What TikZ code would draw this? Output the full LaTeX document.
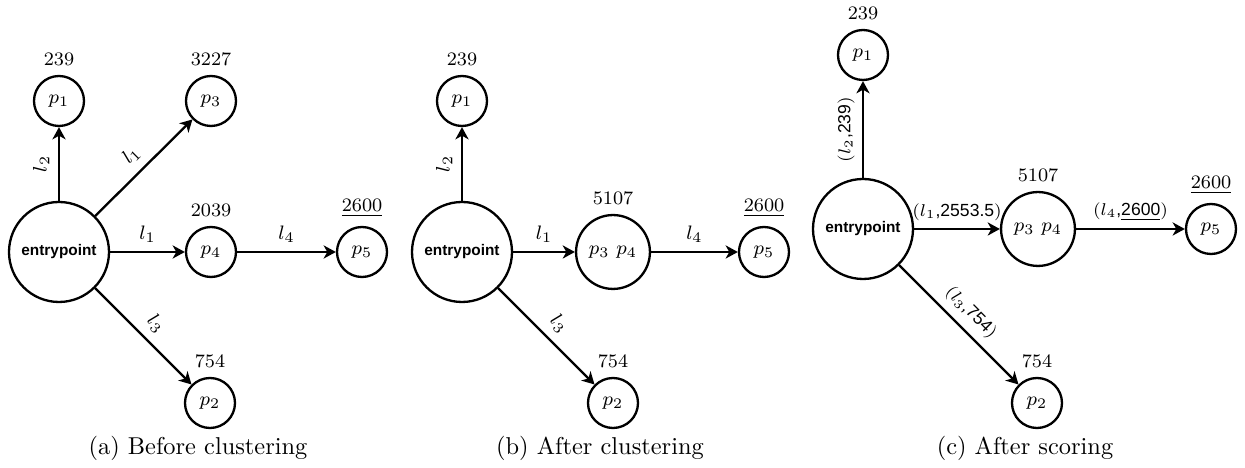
\documentclass[tikz,border=0pt]{standalone}
\usepackage{fontspec}
\setsansfont{Liberation Sans}
\usetikzlibrary{arrows.meta}
\begin{document}
\begin{tikzpicture}[x=0.41pt,y=-0.41pt,
  pnode/.style={circle,draw,line width=0.95pt,minimum size=20.5pt,inner sep=0pt,
    font=\fontsize{8}{9.6}\selectfont,label distance=1.5pt},
  cnode/.style={pnode,minimum size=30.3pt},
  epnode/.style={circle,draw,line width=0.95pt,minimum size=41pt,inner sep=0pt,
    font=\fontsize{6.3}{7.5}\selectfont\sffamily\bfseries},
  every label/.style={font=\fontsize{7.8}{9}\selectfont},
  conn/.style={draw,line width=0.95pt,-{Stealth[length=5pt,width=5.4pt,inset=1.5pt]}},
  elab/.style={font=\fontsize{8}{9.6}\selectfont,sloped,above,midway,inner sep=3.5pt},
  slab/.style={font=\fontsize{7.2}{8.4}\selectfont,sloped,above,midway,inner sep=3pt},
  captext/.style={font=\fontsize{10}{12}\selectfont}]
\useasboundingbox (0,0) rectangle (1245,468);
% (a)
\node[epnode] (Ea) at (59,252) {entrypoint};
\node[pnode,label=above:239] (p1a) at (59,101) {$p_1$};
\node[pnode,label=above:3227] (p3a) at (211,101) {$p_3$};
\node[pnode,label=above:2039] (p4a) at (211,252) {$p_4$};
\node[pnode,label=above:\underline{2600}] (p5a) at (362,252) {$p_5$};
\node[pnode,label=above:754] (p2a) at (210,403) {$p_2$};
\draw[conn] (Ea) -- node[elab] {$l_2$} (p1a);
\draw[conn] (Ea) -- node[elab] {$l_1$} (p3a);
\draw[conn] (Ea) -- node[elab] {$l_1$} (p4a);
\draw[conn] (p4a) -- node[elab] {$l_4$} (p5a);
\draw[conn] (Ea) -- node[elab] {$l_3$} (p2a);
\node[captext] (capa) at (198,448) {(a) Before clustering};
% (b)
\node[epnode] (Eb) at (462,252) {entrypoint};
\node[pnode,label=above:239] (p1b) at (462,101) {$p_1$};
\node[cnode,label=above:5107] (p34b) at (613,252) {$p_3$ $p_4$};
\node[pnode,label=above:\underline{2600}] (p5b) at (764,252) {$p_5$};
\node[pnode,label=above:754] (p2b) at (613,403) {$p_2$};
\draw[conn] (Eb) -- node[elab] {$l_2$} (p1b);
\draw[conn] (Eb) -- node[elab] {$l_1$} (p34b);
\draw[conn] (p34b) -- node[elab] {$l_4$} (p5b);
\draw[conn] (Eb) -- node[elab] {$l_3$} (p2b);
\node[captext] (capb) at (600,448) {(b) After clustering};
% (c)
\node[epnode] (Ec) at (863,229) {entrypoint};
\node[pnode,label=above:239] (p1c) at (863,55) {$p_1$};
\node[cnode,label=above:5107] (p34c) at (1038,229) {$p_3$ $p_4$};
\node[pnode,label=above:\underline{2600}] (p5c) at (1211,229) {$p_5$};
\node[pnode,label=above:754] (p2c) at (1037,403) {$p_2$};
\draw[conn] (Ec) -- node[slab] {$(l_2$\sffamily,239$)$} (p1c);
\draw[conn] (Ec) -- node[slab] {$(l_1$\sffamily,2553.5$)$} (p34c);
\draw[conn] (p34c) -- node[slab] {$(l_4$\sffamily,\underline{2600}$)$} (p5c);
\draw[conn] (Ec) -- node[slab] {$(l_3$\sffamily,754$)$} (p2c);
\node[captext] (capc) at (1025,448) {(c) After scoring};
\end{tikzpicture}
\end{document}
